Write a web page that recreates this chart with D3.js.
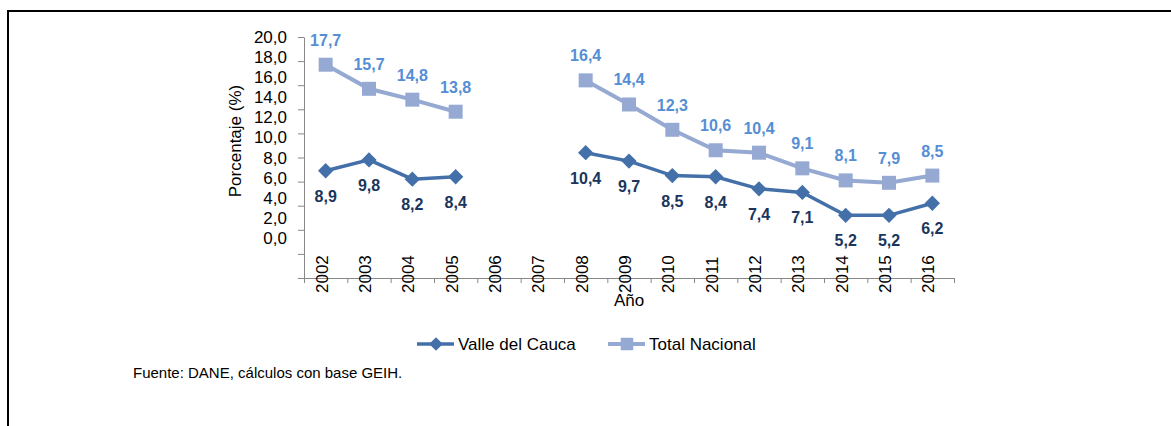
<!DOCTYPE html>
<html>
<head>
<meta charset="utf-8">
<script src="https://cdn.jsdelivr.net/npm/d3@7"></script>
<style>
  body { margin: 0; background: #fff; }
  text { font-family: "Liberation Sans", Arial, sans-serif; }
</style>
</head>
<body>
<svg id="chart" width="1171" height="426"></svg>
<script>
// data
const years = [2002, 2003, 2004, 2005, 2006, 2007, 2008, 2009, 2010, 2011, 2012, 2013, 2014, 2015, 2016];
const valle = [8.9, 9.8, 8.2, 8.4, null, null, 10.4, 9.7, 8.5, 8.4, 7.4, 7.1, 5.2, 5.2, 6.2];
const total = [17.7, 15.7, 14.8, 13.8, null, null, 16.4, 14.4, 12.3, 10.6, 10.4, 9.1, 8.1, 7.9, 8.5];
const yTicks = [0, 2, 4, 6, 8, 10, 12, 14, 16, 18, 20];

const svg = d3.select('#chart');
const fmt = v => d3.format('.1f')(v).replace('.', ',');

// frame lines (top and left only)
svg.append('path')
  .attr('d', 'M8,426V11H1171')
  .attr('fill', 'none')
  .attr('stroke', '#000')
  .attr('stroke-width', 2);

// scales
const x = d3.scaleBand().domain(years).range([304, 954]);
const xEdge = d3.scaleLinear().domain([0, years.length]).range([304, 954]);
const y = d3.scaleLinear().domain([0, 20]).range([278, 37]);
// tick labels in the original sit on a tighter grid than the tick marks
const yLab = d3.scaleLinear().domain([0, 20]).range([238, 37]);

// y axis
const gy = svg.append('g')
  .attr('transform', 'translate(304,0)')
  .call(d3.axisLeft(y).tickValues(yTicks).tickSize(6).tickSizeOuter(0).tickFormat(fmt));
gy.select('.domain').attr('stroke', '#888');
gy.selectAll('.tick line').attr('stroke', '#888');
gy.selectAll('.tick text')
  .attr('x', -17)
  .attr('y', d => yLab(d) - y(d))
  .attr('fill', '#000')
  .style('font-size', '17px');

// x axis (ticks on category edges)
const gx = svg.append('g')
  .attr('transform', 'translate(0,278)')
  .call(d3.axisBottom(xEdge).tickValues(d3.range(years.length + 1)).tickSize(5).tickSizeOuter(0).tickFormat(''));
gx.select('.domain').attr('stroke', '#888');
gx.selectAll('.tick line').attr('stroke', '#888');

svg.append('g').selectAll('text')
  .data(years)
  .enter()
  .append('text')
  .attr('transform', d => `translate(${x(d) + x.bandwidth() / 2 - 4},293) rotate(-90)`)
  .attr('dy', '0.35em')
  .attr('text-anchor', 'start')
  .style('font-size', '17px')
  .text(d => d);

// axis titles
svg.append('text')
  .attr('x', 629).attr('y', 306)
  .attr('text-anchor', 'middle')
  .style('font-size', '17px')
  .text('Año');

svg.append('text')
  .attr('transform', 'translate(241,141) rotate(-90)')
  .attr('text-anchor', 'middle')
  .style('font-size', '17px')
  .text('Porcentaje (%)');

// series
const series = [
  { name: 'Valle del Cauca', values: valle, color: '#4470aa', labelColor: '#1b355c', shape: d3.symbolDiamond2, size: 150, labelDy: 31, width: 3.5 },
  { name: 'Total Nacional', values: total, color: '#95a9d2', labelColor: '#558ed5', shape: d3.symbolSquare, size: 196, labelDy: -19, width: 4 }
];

const line = d3.line()
  .defined(d => d.v != null)
  .x(d => x(d.year) + x.bandwidth() / 2)
  .y(d => y(d.v));

series.forEach(s => {
  const pts = years.map((yr, i) => ({ year: yr, v: s.values[i] }));
  const g = svg.append('g');
  g.append('path')
    .datum(pts)
    .attr('d', line)
    .attr('fill', 'none')
    .attr('stroke', s.color)
    .attr('stroke-width', s.width);
  const valid = pts.filter(d => d.v != null);
  g.selectAll('path.mk')
    .data(valid)
    .enter()
    .append('path')
    .attr('class', 'mk')
    .attr('d', d3.symbol().type(s.shape).size(s.size))
    .attr('transform', d => `translate(${x(d.year) + x.bandwidth() / 2},${y(d.v)})`)
    .attr('fill', s.color);
  g.selectAll('text')
    .data(valid)
    .enter()
    .append('text')
    .attr('x', d => x(d.year) + x.bandwidth() / 2)
    .attr('y', d => y(d.v) + s.labelDy)
    .attr('text-anchor', 'middle')
    .attr('fill', s.labelColor)
    .style('font-size', '16px')
    .style('font-weight', 'bold')
    .text(d => fmt(d.v));
});

// legend
const legend = svg.append('g').attr('transform', 'translate(417,344)');
const legX = [0, 191];
series.forEach((s, i) => {
  const lg = legend.append('g').attr('transform', `translate(${legX[i]},0)`);
  lg.append('line')
    .attr('x1', 0).attr('x2', 37)
    .attr('stroke', s.color)
    .attr('stroke-width', s.width);
  lg.append('path')
    .attr('d', d3.symbol().type(s.shape).size(s.size * 0.8))
    .attr('transform', 'translate(19,0)')
    .attr('fill', s.color);
  lg.append('text')
    .attr('x', 41).attr('y', 6)
    .style('font-size', '17px')
    .text(s.name);
});

// source note
svg.append('text')
  .attr('x', 133).attr('y', 378)
  .style('font-size', '15px')
  .text('Fuente: DANE, cálculos con base GEIH.');
</script>
</body>
</html>
